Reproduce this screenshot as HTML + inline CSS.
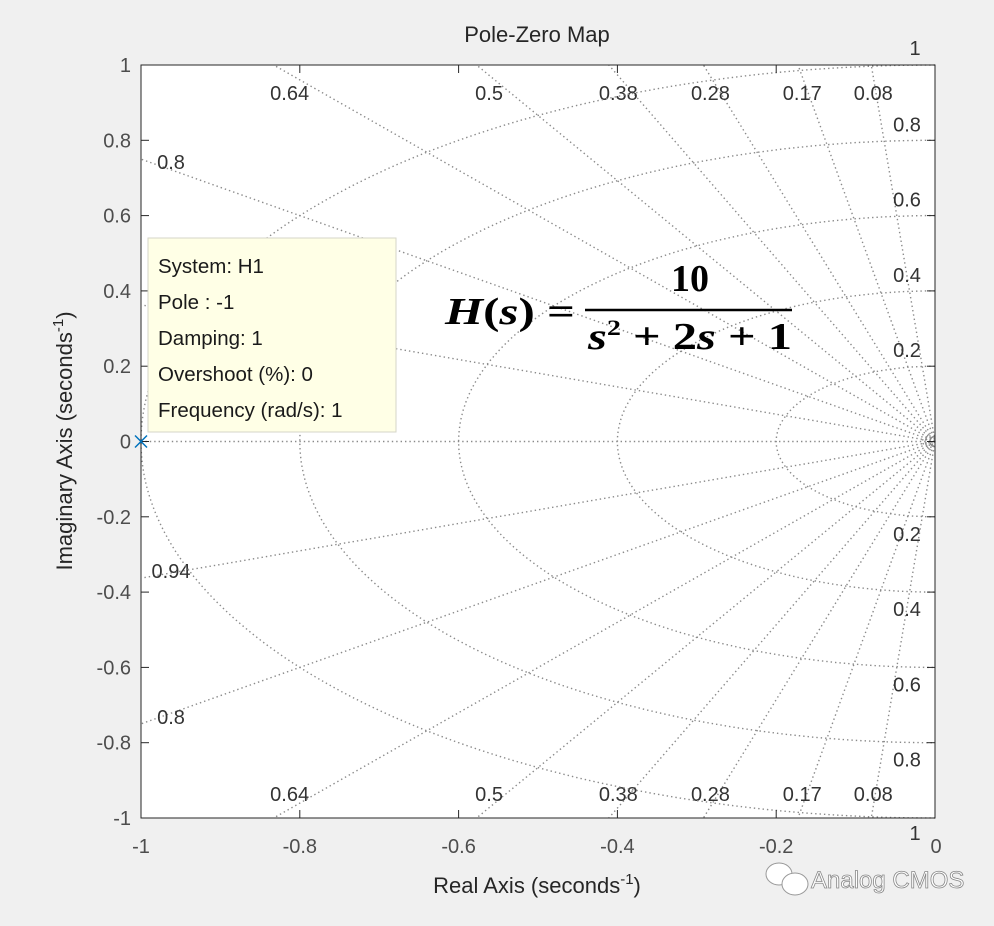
<!DOCTYPE html>
<html><head><meta charset="utf-8"><style>
html,body{margin:0;padding:0;background:#f0f0f0;}
svg{display:block;font-family:"Liberation Sans",sans-serif;}
</style></head><body>
<svg id="chart" width="994" height="926" viewBox="0 0 994 926">
<rect x="0" y="0" width="994" height="926" fill="#f0f0f0"/>
<rect x="141" y="65" width="794" height="753" fill="#ffffff"/>
<g id="grid"></g>
<g id="axes"></g>
<text x="537" y="42" font-size="22" text-anchor="middle" fill="#262626">Pole-Zero Map</text>
<text x="537" y="893" font-size="22" text-anchor="middle" fill="#262626">Real Axis (seconds<tspan dy="-9" font-size="15">-1</tspan><tspan dy="9">)</tspan></text>
<text transform="translate(72,441) rotate(-90)" font-size="22" text-anchor="middle" fill="#262626">Imaginary Axis (seconds<tspan dy="-9" font-size="15">-1</tspan><tspan dy="9">)</tspan></text>
<g id="marks"></g>
<g>
<rect x="148" y="238" width="248" height="194" fill="#ffffe6" stroke="#d6d6c8"/>
<g font-size="20.5" fill="#1a1a1a">
<text x="158" y="273">System: H1</text>
<text x="158" y="309">Pole : -1</text>
<text x="158" y="345">Damping: 1</text>
<text x="158" y="381">Overshoot (%): 0</text>
<text x="158" y="417">Frequency (rad/s): 1</text>
</g></g>
<g font-family="'Liberation Serif',serif" font-weight="bold" fill="#000">
<text x="445" y="324" font-size="38" textLength="130" lengthAdjust="spacingAndGlyphs"><tspan font-style="italic">H</tspan>(<tspan font-style="italic">s</tspan>) =</text>
<text x="690" y="291" font-size="38" text-anchor="middle">10</text>
<line x1="585" y1="310" x2="792" y2="310" stroke="#000" stroke-width="2.5"/>
<text x="588" y="349" font-size="38" textLength="204" lengthAdjust="spacingAndGlyphs"><tspan font-style="italic">s</tspan><tspan dy="-14" font-size="22">2</tspan><tspan dy="14"> + 2</tspan><tspan font-style="italic">s</tspan> + 1</text>
</g>
<g>
<ellipse cx="779" cy="874" rx="13" ry="11" fill="#fff" stroke="#999" stroke-width="1"/>
<ellipse cx="795" cy="884" rx="13" ry="11" fill="#fff" stroke="#999" stroke-width="1"/>
<text x="811" y="888" font-size="24" fill="#fff" stroke="#888" stroke-width="0.8">Analog CMOS</text>
</g>
</svg>
<script>
const zetas=[0.08,0.17,0.28,0.38,0.5,0.64,0.8,0.94];
const zetaLabels=["0.08","0.17","0.28","0.38","0.5","0.64","0.8","0.94"];
const wns=[0.2,0.4,0.6,0.8,1];
const wnLabels=["0.2","0.4","0.6","0.8","1"];
const smallWns=[0.004,0.008,0.012,0.016];
const xTicks=[-1,-0.8,-0.6,-0.4,-0.2,0];
const yTicks=[-1,-0.8,-0.6,-0.4,-0.2,0,0.2,0.4,0.6,0.8,1];
const poles=[[-1,0]];
const X0=141,X1=935,Y0=65,Y1=818;
const sx=v=>X0+(v+1)*(X1-X0);
const sy=v=>Y0+(1-v)/2*(Y1-Y0);
const NS="http://www.w3.org/2000/svg";
function mk(tag,attrs,parent){const e=document.createElementNS(NS,tag);for(const k in attrs)e.setAttribute(k,attrs[k]);parent.appendChild(e);return e;}
const grid=document.getElementById('grid'),axes=document.getElementById('axes'),marks=document.getElementById('marks');
const gs={stroke:"#8a8a8a","stroke-width":1.4,"stroke-dasharray":"1.4 3",fill:"none"};
function clipPt(x,y){return [Math.max(-1,Math.min(0,x)),Math.max(-1,Math.min(1,y))];}
zetas.forEach((z,i)=>{
  const s=Math.sqrt(1-z*z);
  let t=Math.min(1/z,1/s);
  [1,-1].forEach(sg=>{
    const l=mk('line',Object.assign({x1:sx(0),y1:sy(0),x2:sx(-z*t),y2:sy(sg*s*t)},gs),grid);
    
    
    let lx,ly;
    if(z<0.9&&1/s<1/z){lx=sx(-z/s)+25*z;ly=sy(sg*1)+(sg>0?35:-17);}else{lx=sx(-1)+30;ly=sy(sg*s/z)+(sg>0?10:0);}
    const tx=mk('text',{x:lx,y:ly,"font-size":20,"text-anchor":"middle",fill:"#333"},grid);
    tx.textContent=zetaLabels[i];
    
    
  });
});
mk('line',Object.assign({x1:sx(-1),y1:sy(0),x2:sx(0),y2:sy(0)},gs),grid);
wns.concat(smallWns).forEach((w,i)=>{
  let d="";
  for(let k=0;k<=180;k++){const a=Math.PI/2+k*Math.PI/180;const p=clipPt(w*Math.cos(a),w*Math.sin(a));d+=(k?"L":"M")+sx(p[0]).toFixed(1)+" "+sy(p[1]).toFixed(1);}
  const p=mk('path',Object.assign({d:d},gs),grid);
  
  
  if(i<wns.length){
    [1,-1].forEach(sg=>{
      const big=wns[i]>=1;
      const tx=mk('text',{x:big?915:907,y:big?(sg>0?sy(1)-10:sy(-1)+22):(sg>0?sy(w)-9:sy(-w)+24),"font-size":20,"text-anchor":"middle",fill:"#333"},grid);
      tx.textContent=wnLabels[i];
      
      
    });
  }
});
const box=mk('rect',{x:X0,y:Y0,width:X1-X0,height:Y1-Y0,fill:"none",stroke:"#262626","stroke-width":1},axes);


xTicks.forEach(v=>{
  const x=sx(v);
  mk('line',{x1:x,y1:Y1,x2:x,y2:Y1-8,stroke:"#262626"},axes);
  mk('line',{x1:x,y1:Y0,x2:x,y2:Y0+8,stroke:"#262626"},axes);
  const t=mk('text',{x:x+(v===0?1:0),y:Y1+35,"font-size":20,"text-anchor":"middle",fill:"#4d4d4d"},axes);
  t.textContent=String(v);
  
  
});
yTicks.forEach(v=>{
  const y=sy(v);
  mk('line',{x1:X0,y1:y,x2:X0+8,y2:y,stroke:"#262626"},axes);
  mk('line',{x1:X1,y1:y,x2:X1-8,y2:y,stroke:"#262626"},axes);
  const t=mk('text',{x:X0-10,y:y+7,"font-size":20,"text-anchor":"end",fill:"#4d4d4d"},axes);
  t.textContent=String(v);
  
  
});
poles.forEach(p=>{
  const x=sx(p[0]),y=sy(p[1]);
  const g=mk('g',{stroke:"#0072bd","stroke-width":1.5},marks);
  
  
  mk('line',{x1:x-6,y1:y-6,x2:x+6,y2:y+6},g);
  mk('line',{x1:x-6,y1:y+6,x2:x+6,y2:y-6},g);
});
</script>
</body></html>
